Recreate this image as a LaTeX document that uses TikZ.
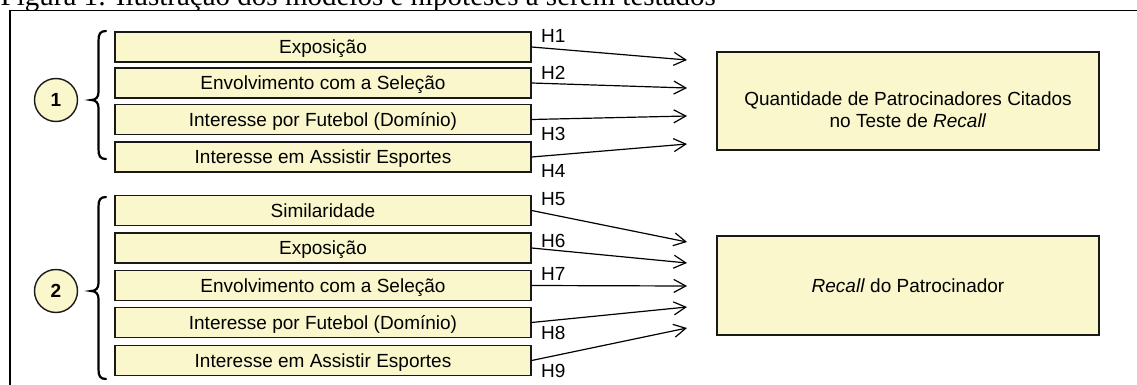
\documentclass[tikz,border=0pt]{standalone}
\usepackage{fontspec}
\setmainfont{Liberation Sans}
\newfontfamily\capfont{Liberation Serif}
\usetikzlibrary{arrows.meta}
\definecolor{boxfill}{RGB}{250,247,204}
\definecolor{linecol}{RGB}{25,25,25}

\begin{document}
\begin{tikzpicture}[x=1pt,y=-1pt,
  every node/.style={font=\fontsize{19}{21.5}\selectfont},
  varbox/.style={draw=linecol, line width=1.3pt, fill=boxfill,
    minimum width=416pt, minimum height=30pt, inner sep=0pt,
    text height=13.6pt, text depth=0pt},
  depbox/.style={draw=linecol, line width=1.3pt, fill=boxfill,
    minimum width=382pt, minimum height=98pt, inner sep=0pt},
  modelnum/.style={circle, draw=linecol, line width=1.4pt, fill=boxfill,
    minimum size=43pt, inner sep=0pt,
    font=\fontsize{19}{21}\selectfont\bfseries,
    text height=13.6pt, text depth=0pt},
  hyp/.style={-{Straight Barb[length=12pt,width=13pt]}, line width=1.2pt},
  hlabel/.style={anchor=base west, inner sep=0pt},
  bracket/.style={line width=2.2pt, line cap=round}
]
\useasboundingbox (0,0) rectangle (1137,385);

% caption above the frame
\node[anchor=base west, inner sep=0pt,
  font=\capfont\fontsize{29}{30}\selectfont] (caption) at (0.5,6)
  {Figura 1: Ilustração dos modelos e hipóteses a serem testados};

% outer frame
\draw[line width=1.8pt, fill=white] (10,10.5) rectangle (1150,400);

% model 1: explanatory variables
\node[varbox] (a1) at (323,47)    {Exposição};
\node[varbox] (a2) at (323,83)    {Envolvimento com a Seleção};
\node[varbox] (a3) at (323,119.5) {Interesse por Futebol (Domínio)};
\node[varbox] (a4) at (323,157)   {Interesse em Assistir Esportes};

% model 2: explanatory variables
\node[varbox] (b1) at (323,210.5) {Similaridade};
\node[varbox] (b2) at (323,248)   {Exposição};
\node[varbox] (b3) at (323,285.5) {Envolvimento com a Seleção};
\node[varbox] (b4) at (323,322.5) {Interesse por Futebol (Domínio)};
\node[varbox] (b5) at (323,360.5) {Interesse em Assistir Esportes};

% model numbers
\node[modelnum] (m1) at (56,100) {1};
\node[modelnum] (m2) at (56,291) {2};

% braces grouping each model
\draw[bracket] (106,31) .. controls (100,31) and (98.5,34) .. (98.5,41)
  -- (98.5,92) .. controls (98.5,97) and (96,100) .. (91,100)
  .. controls (96,100) and (98.5,103) .. (98.5,108)
  -- (98.5,149) .. controls (98.5,156) and (100,159) .. (106,159);
\draw[bracket] (106,197) .. controls (100,197) and (98.5,200) .. (98.5,207)
  -- (98.5,283) .. controls (98.5,288) and (96,291) .. (91,291)
  .. controls (96,291) and (98.5,294) .. (98.5,299)
  -- (98.5,369) .. controls (98.5,376) and (100,379) .. (106,379);

% dependent variables
\node[depbox] (dq) at (908,101) {};
\node[align=center, inner sep=0pt] (dqtext) at (908,109.5)
  {Quantidade de Patrocinadores Citados\\no Teste de \textit{Recall}};
\node[depbox, minimum height=99pt, text height=13.6pt, text depth=0pt]
  (dr) at (908,285.5) {\textit{Recall} do Patrocinador};

% arrow targets
\coordinate (t1) at (687,60);
\coordinate (t2) at (687,88);
\coordinate (t3) at (687,116);
\coordinate (t4) at (687,144);
\coordinate (u1) at (687,242);
\coordinate (u2) at (687,263);
\coordinate (u3) at (687,286);
\coordinate (u4) at (687,307);
\coordinate (u5) at (687,328);

% hypotheses
\draw[hyp] (a1.east) -- (t1);
\draw[hyp] (a2.east) -- (t2);
\draw[hyp] (a3.east) -- (t3);
\draw[hyp] (a4.east) -- (t4);
\draw[hyp] (b1.east) -- (u1);
\draw[hyp] (b2.east) -- (u2);
\draw[hyp] (b3.east) -- (u3);
\draw[hyp] (b4.east) -- (u4);
\draw[hyp] (b5.east) -- (u5);

\node[hlabel] (h1) at (541,43)  {H1};
\node[hlabel] (h2) at (541,80)  {H2};
\node[hlabel] (h3) at (541,140) {H3};
\node[hlabel] (h4) at (541,177) {H4};
\node[hlabel] (h5) at (541,205) {H5};
\node[hlabel] (h6) at (541,247) {H6};
\node[hlabel] (h7) at (541,280) {H7};
\node[hlabel] (h8) at (541,339) {H8};
\node[hlabel] (h9) at (541,377) {H9};
\end{tikzpicture}
\end{document}
